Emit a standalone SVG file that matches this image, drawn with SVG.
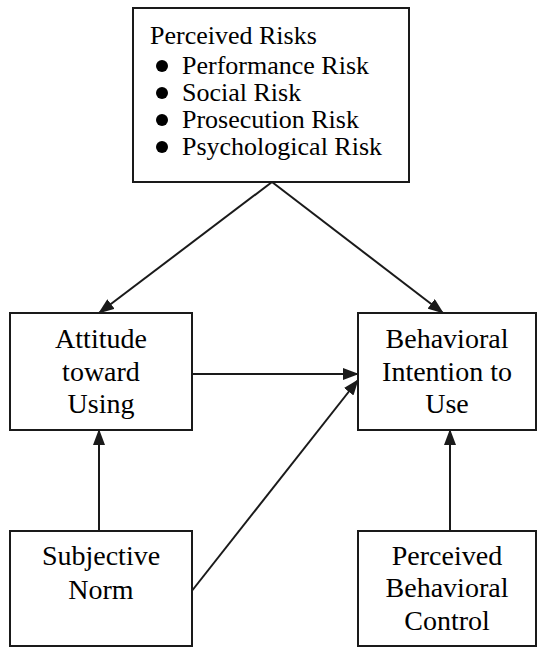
<svg xmlns="http://www.w3.org/2000/svg" width="537" height="648" viewBox="0 0 537 648" font-family="'Times New Roman', 'Liberation Serif', serif">
<defs>
<marker id="ah" markerUnits="userSpaceOnUse" markerWidth="16" markerHeight="12" refX="15" refY="6" orient="auto">
<path d="M0,0 L16,6 L0,12 Z" fill="#1a1a1a"/>
</marker>
</defs>
<g id="connectors" stroke="#1a1a1a" stroke-width="2" fill="none" marker-end="url(#ah)">
<line x1="272" y1="182" x2="99" y2="313"/>
<line x1="272" y1="182" x2="443" y2="313"/>
<line x1="192" y1="374" x2="358" y2="374"/>
<line x1="191" y1="592" x2="358" y2="380"/>
<line x1="99" y1="531" x2="99" y2="430"/>
<line x1="450" y1="531" x2="450" y2="430"/>
</g>
<g id="perceived-risks" font-size="26">
<rect x="133" y="8" width="276" height="174" fill="#fff" stroke="#1a1a1a" stroke-width="2"/>
<text x="150" y="44" font-family="Times New Roman">Perceived Risks</text>
<circle cx="162" cy="66" r="6"/>
<text x="182" y="74" font-family="Times New Roman">Performance Risk</text>
<circle cx="162" cy="93" r="6"/>
<text x="182" y="101" font-family="Times New Roman">Social Risk</text>
<circle cx="162" cy="120" r="6"/>
<text x="182" y="128" font-family="Times New Roman">Prosecution Risk</text>
<circle cx="162" cy="147" r="6"/>
<text x="182" y="155" font-family="Times New Roman">Psychological Risk</text>
</g>
<g id="attitude" font-size="28" text-anchor="middle">
<rect x="10" y="313" width="182" height="117" fill="#fff" stroke="#1a1a1a" stroke-width="2"/>
<text x="101" y="348" font-family="Times New Roman">Attitude</text>
<text x="101" y="381" font-family="Times New Roman">toward</text>
<text x="101" y="413" font-family="Times New Roman">Using</text>
</g>
<g id="intention" font-size="28" text-anchor="middle">
<rect x="358" y="313" width="178" height="117" fill="#fff" stroke="#1a1a1a" stroke-width="2"/>
<text x="447" y="348" font-family="Times New Roman">Behavioral</text>
<text x="447" y="381" font-family="Times New Roman">Intention to</text>
<text x="447" y="413" font-family="Times New Roman">Use</text>
</g>
<g id="subjective-norm" font-size="28" text-anchor="middle">
<rect x="10" y="531" width="182" height="115" fill="#fff" stroke="#1a1a1a" stroke-width="2"/>
<text x="101" y="565" font-family="Times New Roman">Subjective</text>
<text x="101" y="599" font-family="Times New Roman">Norm</text>
</g>
<g id="pbc" font-size="28" text-anchor="middle">
<rect x="358" y="531" width="178" height="115" fill="#fff" stroke="#1a1a1a" stroke-width="2"/>
<text x="447" y="565" font-family="Times New Roman">Perceived</text>
<text x="447" y="597" font-family="Times New Roman">Behavioral</text>
<text x="447" y="630" font-family="Times New Roman">Control</text>
</g>
</svg>
